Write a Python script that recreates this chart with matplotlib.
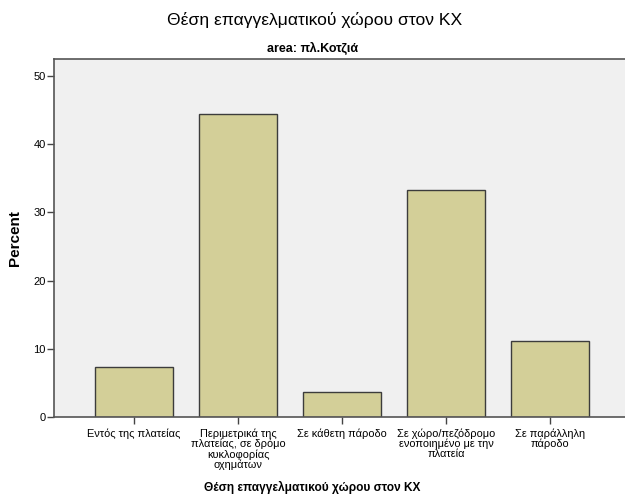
import matplotlib.pyplot as plt

plt.rcParams['font.family'] = ['Liberation Sans', 'DejaVu Sans']

# === Dati ===
categorie = [
    "Εντός της πλατείας",
    "Περιμετρικά της\nπλατείας, σε δρόμο\nκυκλοφορίας\nοχημάτων",
    "Σε κάθετη πάροδο",
    "Σε χώρο/πεζόδρομο\nενοποιημένο με την\nπλατεία",
    "Σε παράλληλη\nπάροδο",
]
percentuali = [7.4, 44.4, 3.7, 33.3, 11.1]
y_ticks = [0, 10, 20, 30, 40, 50]

fig = plt.figure(figsize=(6.25, 5), dpi=100)
ax = fig.add_axes([0.0864, 0.166, 0.9136, 0.716])
ax.set_facecolor("#f0f0f0")

x = range(len(categorie))
ax.bar(x, percentuali, width=0.75, color="#d3cf98", edgecolor="#3c3c3c", linewidth=1.0, zorder=2)

ax.set_xlim(-0.77, 4.72)
ax.set_ylim(0, 52.5)
ax.set_xticks(list(x))
ax.set_xticklabels(categorie, fontsize=7.9, linespacing=1.0)
ax.set_yticks(y_ticks)
ax.tick_params(axis="y", labelsize=8, length=5, width=1, color="#444444", pad=1)
ax.tick_params(axis="x", length=5, width=1, color="#444444", pad=3)

for lato in ["left", "bottom", "top"]:
    ax.spines[lato].set_color("#555555")
    ax.spines[lato].set_linewidth(1.2)
ax.spines["right"].set_visible(False)

ax.set_ylabel("Percent", fontsize=11, fontweight="bold")
ax.yaxis.set_label_coords(-0.056, 0.5)
fig.text(0.5, 0.026, "Θέση επαγγελματικού χώρου στον ΚΧ", ha="center", va="center",
         fontsize=8.6, fontweight="bold")
fig.text(0.504, 0.96, "Θέση επαγγελματικού χώρου στον ΚΧ", ha="center", va="center",
         fontsize=12.6)
fig.text(0.5, 0.904, "area: πλ.Κοτζιά", ha="center", va="center",
         fontsize=9, fontweight="bold")

plt.savefig("out.png", dpi=100)
plt.close()
